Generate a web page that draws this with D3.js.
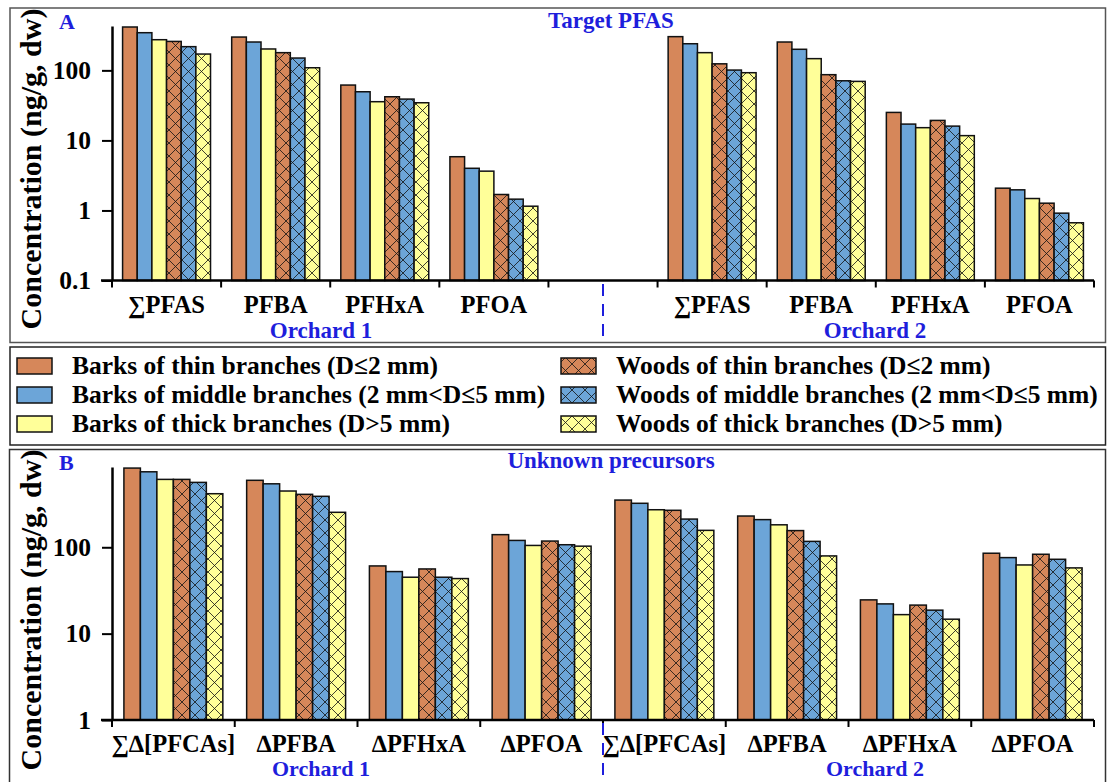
<!DOCTYPE html>
<html><head><meta charset="utf-8">
<script src="https://cdn.jsdelivr.net/npm/d3@7"></script>
<style>
body{margin:0;background:#fff}
svg{display:block}
text{font-family:"Liberation Serif","Times New Roman",Tinos,"DejaVu Serif",serif;font-weight:bold}
</style>
</head><body>
<svg id="chart" width="1109" height="782"></svg>
<script>
// ---------- data ----------
const seriesNames = [
  "Barks of thin branches (D≤2 mm)",
  "Barks of middle branches (2 mm<D≤5 mm)",
  "Barks of thick branches (D>5 mm)",
  "Woods of thin branches (D≤2 mm)",
  "Woods of middle branches (2 mm<D≤5 mm)",
  "Woods of thick branches (D>5 mm)"
];
const seriesColors = ["#D6875A", "#6CA5D8", "#FFFF99", "#D6875A", "#6CA5D8", "#FFFF99"];
const seriesHatched = [false, false, false, true, true, true];

// Panel A: Target PFAS (empty slot separates orchards)
const categoriesA = ["∑PFAS", "PFBA", "PFHxA", "PFOA", "", "∑PFAS", "PFBA", "PFHxA", "PFOA"];
const barkThinA  = [416, 299, 61.7, 5.85, null, 303, 254, 25.1, 2.08];
const barkMidA   = [345, 254, 49.5, 4.0,  null, 240, 200, 17.1, 1.97];
const barkThickA = [274, 202, 35.7, 3.64, null, 179, 147, 15.2, 1.48];
const woodThinA  = [259, 179, 42.0, 1.69, null, 124, 86.8, 19.3, 1.27];
const woodMidA   = [218, 150, 38.9, 1.45, null, 101, 71.0, 16.0, 0.915];
const woodThickA = [171, 109, 34.5, 1.15, null, 92.6, 69.6, 11.7, 0.667];
const tickValuesA = [0.1, 1, 10, 100];
const tickLabelsA = ["0.1", "1", "10", "100"];

// Panel B: Unknown precursors
const categoriesB = ["∑∆[PFCAs]", "∆PFBA", "∆PFHxA", "∆PFOA", "∑∆[PFCAs]", "∆PFBA", "∆PFHxA", "∆PFOA"];
const barkThinB  = [826, 596, 60.8, 140, 352, 230, 24.6, 85.3];
const barkMidB   = [748, 543, 52.3, 120, 323, 209, 22.1, 75.9];
const barkThickB = [611, 448, 45.0, 105, 272, 182, 16.6, 62.4];
const woodThinB  = [611, 410, 56.1, 118, 268, 156, 21.4, 83.0];
const woodMidB   = [564, 389, 45.0, 107, 212, 117, 18.7, 72.6];
const woodThickB = [417, 254, 43.4, 103, 157, 79.4, 14.7, 57.7];
const tickValuesB = [1, 10, 100];
const tickLabelsB = ["1", "10", "100"];

const orchardLabels = ["Orchard 1", "Orchard 2"];

// ---------- drawing ----------
const svg = d3.select("#chart");
const BLUE = "#1E1EDC";
const FONT = '"Liberation Serif","Times New Roman",Tinos,"DejaVu Serif",serif';

// hatch patterns
const defs = svg.append("defs");
seriesColors.forEach((c, i) => {
  if (!seriesHatched[i]) return;
  const p = defs.append("pattern").attr("id", "hatch" + i)
    .attr("patternUnits", "userSpaceOnUse").attr("width", 13).attr("height", 13);
  p.append("rect").attr("width", 13).attr("height", 13).attr("fill", c);
  p.append("path").attr("d", "M0,0L13,13M13,0L0,13M-1,12L1,14M12,-1L14,1")
    .attr("stroke", "#111").attr("stroke-width", 0.8).attr("fill", "none");
});
const fillOf = i => seriesHatched[i] ? `url(#hatch${i})` : seriesColors[i];

// panel boxes
svg.append("rect").attr("x", 10).attr("y", 8).attr("width", 1095.5).attr("height", 334.5)
  .attr("fill", "none").attr("stroke", "#555").attr("stroke-width", 1.5);
svg.append("rect").attr("x", 10).attr("y", 347).attr("width", 1095.5).attr("height", 98)
  .attr("fill", "none").attr("stroke", "#222").attr("stroke-width", 1.5);
svg.append("rect").attr("x", 9.5).attr("y", 449.5).attr("width", 1096).attr("height", 340)
  .attr("fill", "none").attr("stroke", "#333").attr("stroke-width", 1.5);

function drawPanel(cfg) {
  const g = svg.append("g");
  const n = cfg.categories.length;
  const x = d3.scaleBand().domain(d3.range(n)).range([112, 1094]).padding(0);
  const bw = x.bandwidth();
  const xs = d3.scaleBand().domain(d3.range(6)).range([bw * 0.097, bw * 0.903]).padding(0);
  const y = d3.scaleLog().domain(cfg.domain).range(cfg.yRange);

  // bars
  cfg.series.forEach((vals, si) => {
    g.append("g").selectAll("rect")
      .data(vals.map((v, ci) => ({ v, ci })).filter(d => d.v != null))
      .join("rect")
      .attr("x", d => x(d.ci) + xs(si))
      .attr("width", xs.bandwidth())
      .attr("y", d => y(d.v))
      .attr("height", d => y(cfg.domain[0]) - y(d.v))
      .attr("fill", fillOf(si))
      .attr("stroke", "#111").attr("stroke-width", 1.5);
  });

  // y axis
  const ya = g.append("g").attr("transform", "translate(112,0)")
    .call(d3.axisLeft(y).tickValues(cfg.ticks)
      .tickFormat((d, i) => cfg.tickLabels[i]).tickSize(10).tickSizeOuter(0).tickPadding(11));
  ya.attr("font-family", FONT);
  ya.select(".domain").attr("stroke", "#000").attr("stroke-width", 2.5);
  ya.selectAll(".tick line").attr("stroke", "#000").attr("stroke-width", 2);
  ya.selectAll(".tick text").attr("fill", "#000").style("font-size", "25.5px")
    .style("font-family", FONT).style("font-weight", "bold");

  // x axis
  const y0 = y(cfg.domain[0]);
  g.append("line").attr("x1", 101).attr("x2", x.range()[1]).attr("y1", y0).attr("y2", y0)
    .attr("stroke", "#000").attr("stroke-width", 2.5);
  const bounds = d3.range(n + 1).map(i => x.range()[0] + i * bw);
  g.selectAll(".xt").data(bounds).join("line")
    .attr("x1", d => d).attr("x2", d => d).attr("y1", y0).attr("y2", y0 + 7)
    .attr("stroke", "#000").attr("stroke-width", 2);

  // category labels
  g.selectAll(".cl").data(cfg.categories).join("text")
    .attr("x", (d, i) => x(i) + bw / 2).attr("y", cfg.catY)
    .attr("text-anchor", "middle").style("font-size", "24.5px").attr("fill", "#000")
    .text(d => d);

  // orchard labels
  g.selectAll(".ol").data(orchardLabels).join("text")
    .attr("x", (d, i) => cfg.orchardX[i]).attr("y", cfg.orchY)
    .attr("text-anchor", "middle").style("font-size", cfg.orchSize).attr("fill", BLUE)
    .text(d => d);

  // dashed separator
  g.append("line").attr("x1", cfg.sepX(x, bw)).attr("x2", cfg.sepX(x, bw))
    .attr("y1", cfg.sepY[0]).attr("y2", cfg.sepY[1])
    .attr("stroke", BLUE).attr("stroke-width", 2).attr("stroke-dasharray", "12,8");

  // panel letter & title
  g.append("text").attr("x", 59).attr("y", cfg.letterY).style("font-size", "22px")
    .attr("fill", BLUE).text(cfg.letter);
  g.append("text").attr("x", 611).attr("y", cfg.titleY).attr("text-anchor", "middle")
    .style("font-size", "23px").attr("fill", BLUE).text(cfg.title);

  // y axis title
  g.append("text").attr("transform", `translate(41,${cfg.yTitleC}) rotate(-90)`)
    .attr("text-anchor", "middle").style("font-size", "30px").attr("fill", "#000")
    .text("Concentration (ng/g, dw)");
}

drawPanel({
  categories: categoriesA,
  series: [barkThinA, barkMidA, barkThickA, woodThinA, woodMidA, woodThickA],
  domain: [0.1, 430], yRange: [280.5, 26],
  ticks: tickValuesA, tickLabels: tickLabelsA,
  catY: 313, orchY: 338, orchSize: "23px", orchardX: [321, 875],
  sepX: (x, bw) => x(4) + bw / 2, sepY: [284, 342],
  letter: "A", letterY: 29, title: "Target PFAS", titleY: 28, yTitleC: 169
});
drawPanel({
  categories: categoriesB,
  series: [barkThinB, barkMidB, barkThickB, woodThinB, woodMidB, woodThickB],
  domain: [1, 850], yRange: [720, 467],
  ticks: tickValuesB, tickLabels: tickLabelsB,
  catY: 752, orchY: 776, orchSize: "22px", orchardX: [321, 875],
  sepX: (x, bw) => x(4), sepY: [723, 782],
  letter: "B", letterY: 470, title: "Unknown precursors", titleY: 468, yTitleC: 610
});

// legend
const leg = svg.append("g");
const legCols = [17, 561];
const legRows = [358, 387, 416];
seriesNames.forEach((name, i) => {
  const col = Math.floor(i / 3), row = i % 3;
  leg.append("rect").attr("x", legCols[col]).attr("y", legRows[row])
    .attr("width", 35).attr("height", 16)
    .attr("fill", fillOf(i)).attr("stroke", "#111").attr("stroke-width", 1.5);
  leg.append("text").attr("x", legCols[col] + 55).attr("y", legRows[row] + 16)
    .style("font-size", "25.5px").attr("fill", "#000").text(name);
});
</script>
</body></html>
